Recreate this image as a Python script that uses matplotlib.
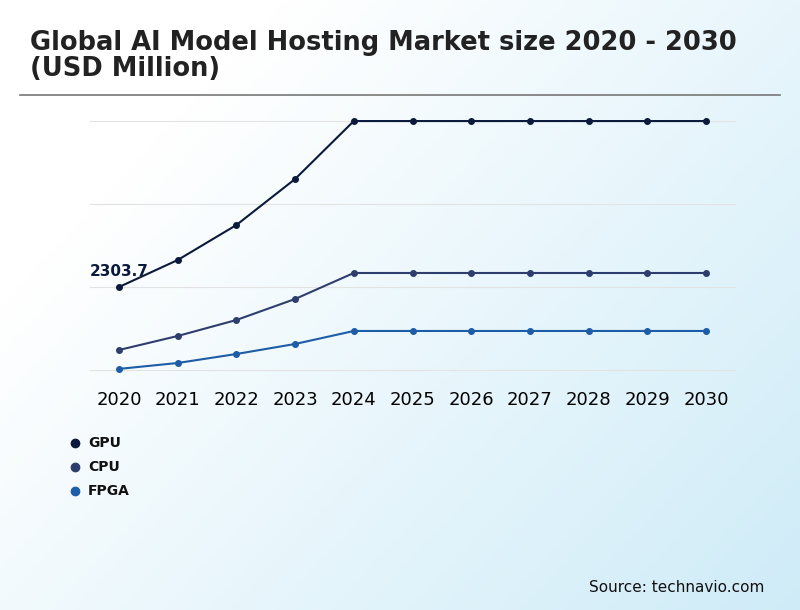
import matplotlib.pyplot as plt
import numpy as np
from matplotlib.lines import Line2D

# Data
years = [2020, 2021, 2022, 2023, 2024, 2025, 2026, 2027, 2028, 2029, 2030]
gpu = [2303.7, 3053, 4025, 5302, 6911, 6911, 6911, 6911, 6911, 6911, 6911]
cpu = [555, 944, 1388, 1971, 2693, 2693, 2693, 2693, 2693, 2693, 2693]
fpga = [30, 194, 444, 722, 1083, 1083, 1083, 1083, 1083, 1083, 1083]
series_names = ['GPU', 'CPU', 'FPGA']
colors = ['#0b1a3c', '#2d3e6e', '#1d5ca6']

fig = plt.figure(figsize=(8, 6.1), dpi=100)

# Gradient background (white top-left -> light blue bottom-right)
bg = fig.add_axes([0, 0, 1, 1], zorder=-10)
xx, yy = np.meshgrid(np.linspace(0, 1, 200), np.linspace(0, 1, 200))
t = np.clip(xx * 0.7 + yy * 0.5 - 0.25, 0, 1)
white = np.array([1.0, 1.0, 1.0])
blue = np.array([0.80, 0.92, 0.97])
img = white[None, None, :] * (1 - t[..., None]) + blue[None, None, :] * t[..., None]
bg.imshow(img, extent=[0, 1, 0, 1], origin='upper', aspect='auto')
bg.axis('off')

# Title and separator
fig.text(0.038, 1 - 56 / 610, 'Global AI Model Hosting Market size 2020 - 2030\n(USD Million)',
         fontsize=18.5, fontweight='bold', color='#222222', va='center', linespacing=1.0)
fig.add_artist(Line2D([0.025, 0.975], [0.844, 0.844], color='#777777', lw=1.2))

ax = fig.add_axes([90 / 800, 230 / 610, 646 / 800, 270 / 610])
ax.patch.set_alpha(0)
for vals, c in zip([gpu, cpu, fpga], colors):
    ax.plot(years, vals, color=c, marker='o', markersize=4, lw=1.5)

ax.set_xlim(2020 - 29 / 58.7, 2030 + 30 / 58.7)
ax.set_ylim(-278, 7218)
ax.set_yticks([0, 2303.7, 4607.4, 6911.1])
ax.yaxis.grid(True, color='#e3e3e3', lw=0.8)
ax.tick_params(axis='y', left=False, labelleft=False)
ax.tick_params(axis='x', length=0, labelsize=13, pad=8)
ax.set_xticks(years)
for s in ax.spines.values():
    s.set_visible(False)

ax.annotate('2303.7', (years[0], gpu[0]), xytext=(0, 8), textcoords='offset points',
            ha='center', fontsize=11, fontweight='bold', color=colors[0])

# Legend
for i, (name, c) in enumerate(zip(series_names, colors)):
    y = 1 - (443 + 24 * i) / 610
    fig.add_artist(Line2D([75 / 800], [y], marker='o', color=c, markersize=6, lw=0))
    fig.text(88 / 800, y, name, fontsize=10, fontweight='bold', va='center', color='#111111')

fig.text(0.955, 1 - 588 / 610, 'Source: technavio.com', fontsize=11, ha='right',
         va='center', color='#111111')

plt.savefig('out.png', dpi=100)
